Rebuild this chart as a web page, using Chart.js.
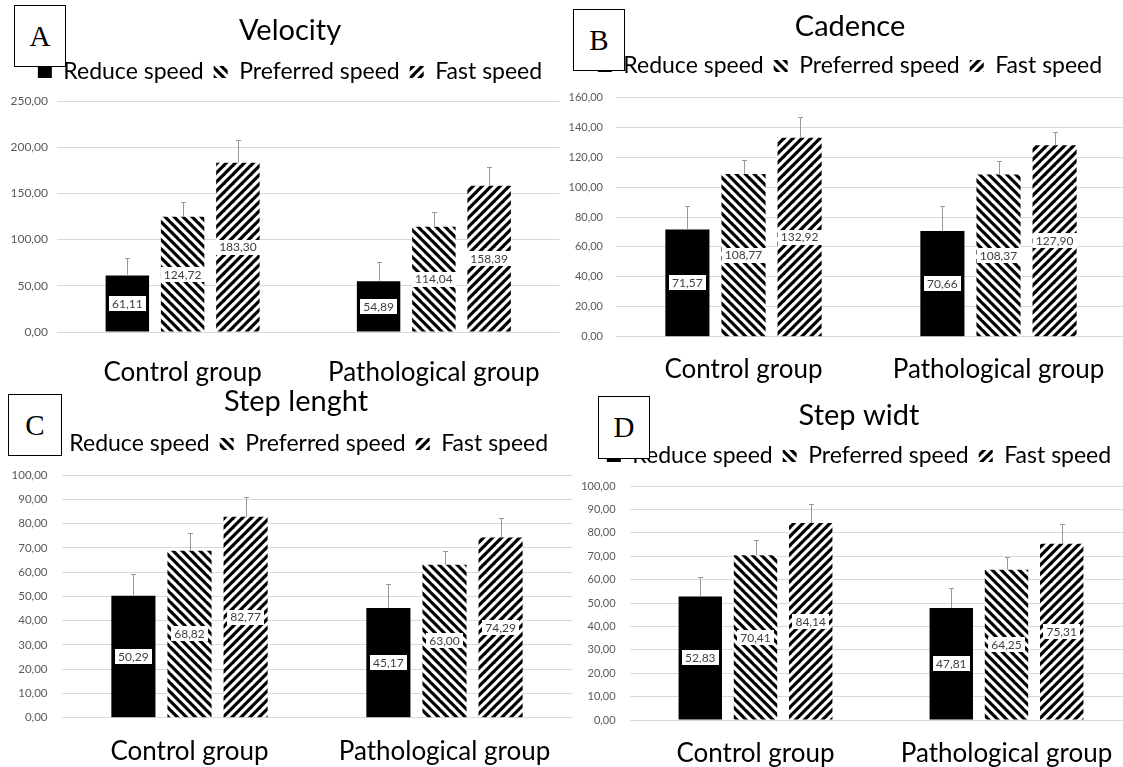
<!DOCTYPE html>
<html>
<head>
<meta charset="utf-8">
<script src="https://cdn.jsdelivr.net/npm/chart.js@4.4.1/dist/chart.umd.min.js"></script>
<style>
  html, body { margin: 0; padding: 0; background: #fff; overflow: hidden; }
  body { width: 1123px; height: 767px; position: relative; }
  canvas { position: absolute; }
  .tag {
    position: absolute; box-sizing: border-box; border: 1px solid #000; background: #fff;
    font-family: "Liberation Serif", serif; font-size: 29px; color: #000;
    display: flex; align-items: center; justify-content: center; z-index: 5;
  }
</style>
</head>
<body>
<canvas id="velocity"></canvas>
<canvas id="cadence"></canvas>
<canvas id="stepLength"></canvas>
<canvas id="stepWidth"></canvas>
<div class="tag" style="left:14px;top:5px;width:52px;height:62px">A</div>
<div class="tag" style="left:573px;top:9px;width:52px;height:62px">B</div>
<div class="tag" style="left:8px;top:394px;width:54px;height:62px">C</div>
<div class="tag" style="left:598px;top:396px;width:52px;height:63px">D</div>
<script>
// data
const categories = ["Control group", "Pathological group"];
const seriesNames = ["Reduce speed", "Preferred speed", "Fast speed"];

const velocityReduce = [61.11, 54.89];
const velocityPreferred = [124.72, 114.04];
const velocityFast = [183.30, 158.39];
const velocityErr = [[18.9, 20.8], [15.8, 16.0], [24.3, 20.3]];

const cadenceReduce = [71.57, 70.66];
const cadencePreferred = [108.77, 108.37];
const cadenceFast = [132.92, 127.90];
const cadenceErr = [[15.6, 16.5], [9.3, 9.2], [14.1, 8.7]];

const lengthReduce = [50.29, 45.17];
const lengthPreferred = [68.82, 63.00];
const lengthFast = [82.77, 74.29];
const lengthErr = [[8.9, 9.8], [7.2, 5.6], [8.2, 8.1]];

const widthReduce = [52.83, 47.81];
const widthPreferred = [70.41, 64.25];
const widthFast = [84.14, 75.31];
const widthErr = [[8.4, 8.5], [6.6, 5.3], [8.1, 8.5]];

const font = "Lato";
const titleSize = 29, legendSize = 23, legendPad = 10, catSize = 26;
const komma = v => v.toFixed(2).replace(".", ",");

// striped fill, dir "\\" or "/"
function hatch(ctx, dir) {
    const s = 9, w = 4.5;
    const c = document.createElement("canvas");
    c.width = s; c.height = s;
    const g = c.getContext("2d");
    g.fillStyle = "#fff";
    g.fillRect(0, 0, s, s);
    g.fillStyle = "#000";
    for (let k = -1; k <= 1; k++) {
        g.beginPath();
        if (dir === "/") {
            g.moveTo(k * s, s); g.lineTo(k * s + w, s); g.lineTo(k * s + w + s, 0); g.lineTo(k * s + s, 0);
        } else {
            g.moveTo(k * s, 0); g.lineTo(k * s + w, 0); g.lineTo(k * s + w + s, s); g.lineTo(k * s + s, s);
        }
        g.closePath();
        g.fill();
    }
    return ctx.createPattern(c, "repeat");
}

const errorBars = {
    id: "errorBars",
    afterDatasetsDraw(chart) {
        const ctx = chart.ctx, y = chart.scales.y;
        ctx.save();
        ctx.strokeStyle = "#999";
        ctx.lineWidth = 1;
        chart.data.datasets.forEach((ds, i) => {
            chart.getDatasetMeta(i).data.forEach((bar, j) => {
                const top = Math.round(y.getPixelForValue(ds.data[j] + ds.errPlus[j])) + 0.5;
                const x = Math.round(bar.x) + 0.5;
                ctx.beginPath();
                ctx.moveTo(x, bar.y);
                ctx.lineTo(x, top);
                ctx.moveTo(x - 2.5, top);
                ctx.lineTo(x + 2.5, top);
                ctx.stroke();
            });
        });
        ctx.restore();
    }
};

const valueBoxes = {
    id: "valueBoxes",
    afterDatasetsDraw(chart) {
        const ctx = chart.ctx;
        ctx.save();
        ctx.font = "12px " + font;
        ctx.textAlign = "center";
        ctx.textBaseline = "middle";
        chart.data.datasets.forEach((ds, i) => {
            chart.getDatasetMeta(i).data.forEach((bar, j) => {
                const txt = komma(ds.data[j]);
                const cy = (bar.y + bar.base) / 2;
                const w = ctx.measureText(txt).width + 6;
                ctx.fillStyle = "#fff";
                ctx.fillRect(Math.round(bar.x - w / 2), Math.round(cy - 7.5), Math.round(w), 15);
                ctx.fillStyle = "#404040";
                ctx.fillText(txt, bar.x, cy + 0.5);
            });
        });
        ctx.restore();
    }
};

// positions in page pixels
function erstellePanel(config) {
    const {
        id, titel, reduce, preferred, fast, err,
        yMax, step,
        left, top, plotLeft, plotRight, plotTop, plotBottom,
        titleY, legendY, labelY, height,
        padLeft, yPad, yFont = 11
    } = config;

    const el = document.getElementById(id);
    const width = plotRight - left;
    el.width = width;
    el.height = height;
    el.style.left = left + "px";
    el.style.top = top + "px";

    const tTop = titleY - top - 0.6 * titleSize;
    const tBottom = legendY - top - legendSize / 2 - legendPad - (tTop + 1.2 * titleSize);
    const legendBottom = legendY - top + legendSize / 2 + 10;
    const gap = plotTop - top - legendBottom;
    const xHeight = top + height - plotBottom;
    const xPad = labelY - plotBottom - 0.6 * catSize;

    const ctx = el.getContext("2d");
    new Chart(ctx, {
        type: "bar",
        data: {
            labels: categories,
            datasets: [
                { label: seriesNames[0], data: reduce, errPlus: err[0], backgroundColor: "#000" },
                { label: seriesNames[1], data: preferred, errPlus: err[1], backgroundColor: hatch(ctx, "\\") },
                { label: seriesNames[2], data: fast, errPlus: err[2], backgroundColor: hatch(ctx, "/") }
            ]
        },
        options: {
            responsive: false,
            animation: false,
            events: [],
            categoryPercentage: 0.66,
            barPercentage: 0.786,
            layout: { padding: { top: 0, right: 0, bottom: 0, left: padLeft } },
            plugins: {
                title: {
                    display: true,
                    text: titel,
                    color: "#000",
                    font: { family: font, size: titleSize, weight: "normal" },
                    padding: { top: tTop, bottom: Math.max(tBottom, 0) }
                },
                // empty spacer between legend and plot
                subtitle: {
                    display: true,
                    text: "",
                    font: { size: 1 },
                    padding: { top: Math.max(gap - 1.2, 0), bottom: 0 }
                },
                legend: {
                    display: true,
                    weight: 1600,
                    labels: {
                        color: "#000",
                        font: { family: font, size: legendSize },
                        boxWidth: 14,
                        boxHeight: 12,
                        padding: legendPad
                    }
                },
                tooltip: { enabled: false }
            },
            scales: {
                x: {
                    grid: { display: false, drawTicks: false },
                    border: { display: false },
                    ticks: { color: "#000", font: { family: font, size: catSize }, padding: xPad },
                    afterFit: s => { s.height = xHeight; }
                },
                y: {
                    min: 0,
                    max: yMax,
                    grid: { color: "#d9d9d9", drawTicks: false },
                    border: { display: false },
                    ticks: {
                        stepSize: step,
                        color: "#595959",
                        padding: yPad,
                        font: { family: font, size: yFont },
                        callback: v => komma(v)
                    },
                    afterFit: s => {
                        s.width = plotLeft - left - padLeft;
                        // tick labels may run into the left padding
                        s._computeLabelArea = () => null;
                    }
                }
            }
        },
        plugins: [errorBars, valueBoxes]
    });
}

erstellePanel({
    id: "velocity", titel: "Velocity",
    reduce: velocityReduce, preferred: velocityPreferred, fast: velocityFast, err: velocityErr,
    yMax: 250, step: 50,
    left: 0, top: 0, plotLeft: 57, plotRight: 565, plotTop: 101, plotBottom: 332,
    titleY: 31, legendY: 72, labelY: 373, height: 392,
    padLeft: 15, yPad: 9, yFont: 12
});
erstellePanel({
    id: "cadence", titel: "Cadence",
    reduce: cadenceReduce, preferred: cadencePreferred, fast: cadenceFast, err: cadenceErr,
    yMax: 160, step: 20,
    left: 560, top: 0, plotLeft: 616, plotRight: 1126, plotTop: 97.3, plotBottom: 336.7,
    titleY: 27, legendY: 66, labelY: 370, height: 397,
    padLeft: 14, yPad: 13, yFont: 11
});
erstellePanel({
    id: "stepLength", titel: "Step lenght",
    reduce: lengthReduce, preferred: lengthPreferred, fast: lengthFast, err: lengthErr,
    yMax: 100, step: 10,
    left: 0, top: 380, plotLeft: 62, plotRight: 572, plotTop: 475, plotBottom: 717.7,
    titleY: 402, legendY: 444, labelY: 752, height: 387,
    padLeft: 20, yPad: 14.5, yFont: 11.5
});
erstellePanel({
    id: "stepWidth", titel: "Step widt",
    reduce: widthReduce, preferred: widthPreferred, fast: widthFast, err: widthErr,
    yMax: 100, step: 10,
    left: 575, top: 380, plotLeft: 630, plotRight: 1132, plotTop: 486, plotBottom: 720,
    titleY: 416, legendY: 456, labelY: 754, height: 387,
    padLeft: 11, yPad: 14.4, yFont: 11
});
</script>
</body>
</html>
